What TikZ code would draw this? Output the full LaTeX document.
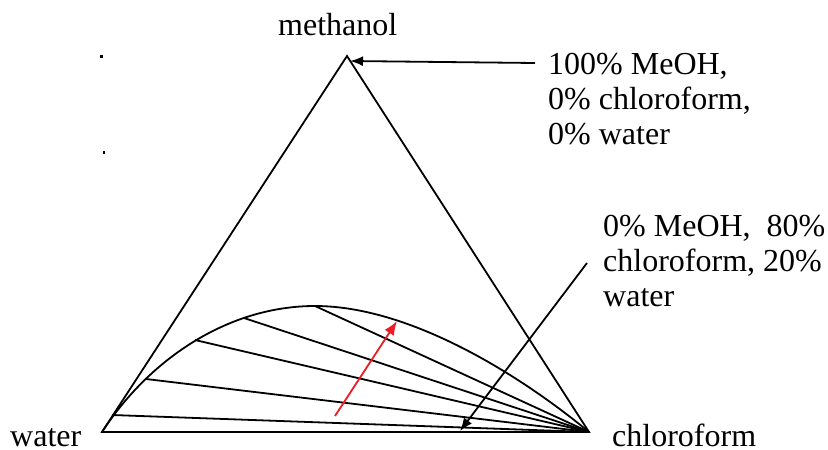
\documentclass[tikz,border=0pt]{standalone}
\usepackage{fontspec}
\setmainfont{Liberation Serif}
\usetikzlibrary{arrows.meta}
\definecolor{arrowred}{RGB}{237,28,36}
\begin{document}
\begin{tikzpicture}[x=1pt,y=-1pt,
  edge/.style={line width=1.8pt, line join=miter},
  tie/.style={line width=1.8pt},
  callout/.style={line width=1.8pt, -{Latex[length=13pt,width=10pt]}},
  redarrow/.style={line width=1.8pt, arrowred, -{Latex[length=14pt,width=11pt]}},
  lab/.style={inner sep=0pt, font=\fontsize{32}{35}\selectfont, align=left}]
\useasboundingbox (0,0) rectangle (828,450);
% vertices
\coordinate (W) at (102,432);
\coordinate (C) at (589,432);
\coordinate (M) at (347,56);
% tie-line ends on the binodal curve
\coordinate (t1) at (112,415);
\coordinate (t2) at (146,379);
\coordinate (t3) at (195,340);
\coordinate (t4) at (244,318);
\coordinate (t5) at (315,306);
% triangle
\draw[edge] (W) -- (M) -- (C) -- cycle;
% binodal curve
\draw[line width=1.8pt] (W) .. controls (151,357) and (230,306) .. (t5)
  .. controls (410,306) and (520,375) .. (C);
% tie lines
\foreach \p in {t1,t2,t3,t4,t5} \draw[tie] (\p) -- (C);
% red arrow
\coordinate (r0) at (335,416);
\coordinate (r1) at (397,321);
\draw[redarrow] (r0) -- (r1);
% labels
\node[lab, anchor=base west] (lm) at (278,35) {methanol};
\node[lab, anchor=base west] (lw) at (10,446) {water};
\node[lab, anchor=base west] (lc) at (612,446) {chloroform};
\node[lab, anchor=north west] (l1) at (548,53) {100\% MeOH,\\0\% chloroform,\\0\% water};
\node[lab, anchor=north west] (l2) at (603,215) {0\% MeOH,\ \ 80\%\\chloroform, 20\%\\water};
% callout arrows
\coordinate (a1s) at (535,63);
\coordinate (a1e) at (350,61);
\draw[callout] (a1s) -- (a1e);
\coordinate (a2s) at (587,263);
\coordinate (a2e) at (460,431);
\draw[callout] (a2s) -- (a2e);
% stray marks
\fill (100,55) rectangle (103,57.5);
\fill (103,151) rectangle (105,153.5);
\end{tikzpicture}
\end{document}
